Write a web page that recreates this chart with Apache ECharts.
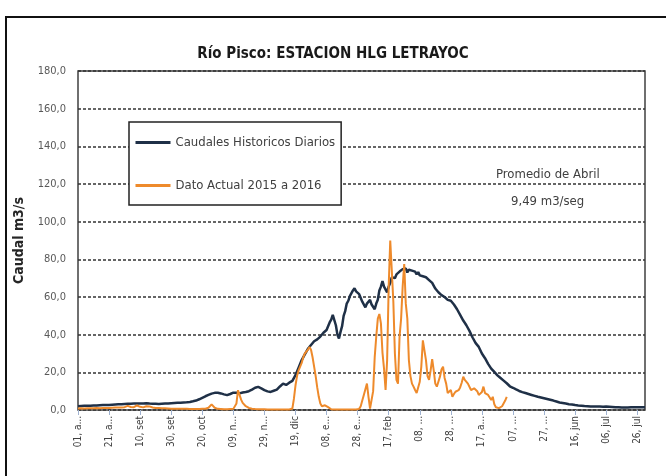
<!DOCTYPE html>
<html>
<head>
<meta charset="utf-8">
<script src="https://cdn.jsdelivr.net/npm/echarts@6/dist/echarts.min.js"></script>
<style>
  html, body { margin: 0; background: #fff; }
  #chart { width: 666px; height: 476px; }
</style>
</head>
<body>
<div id="chart"></div>
<script>
// caudales diarios, 01 ago 2015 - 31 jul 2016 (m3/s)
const historico = [
  2.0, 2.0, 2.1, 2.1, 2.2, 2.2, 2.2, 2.3, 2.3, 2.3,
  2.4, 2.4, 2.4, 2.5, 2.5, 2.5, 2.6, 2.6, 2.6, 2.7,
  2.7, 2.7, 2.8, 2.8, 2.9, 2.9, 3.0, 3.0, 3.1, 3.1,
  3.2, 3.2, 3.3, 3.3, 3.3, 3.4, 3.4, 3.4, 3.5, 3.5,
  3.5, 3.4, 3.4, 3.5, 3.6, 3.5, 3.4, 3.4, 3.3, 3.3,
  3.3, 3.2, 3.2, 3.3, 3.3, 3.4, 3.4, 3.5, 3.5, 3.6,
  3.6, 3.7, 3.7, 3.8, 3.8, 3.9, 3.9, 4.0, 4.0, 4.1,
  4.1, 4.2, 4.3, 4.4, 4.6, 4.8, 5.0, 5.3, 5.7, 6.1,
  6.5, 6.9, 7.3, 7.7, 8.0, 8.4, 8.7, 8.9, 9.1, 9.2,
  9.2, 9.0, 8.8, 8.6, 8.3, 8.0, 7.9, 8.1, 8.5, 8.9,
  9.2, 9.4, 9.2, 9.0, 8.8, 9.0, 9.3, 9.5, 9.6, 9.8,
  10.0, 10.3, 10.8, 11.3, 11.8, 12.2, 12.3, 12.0, 11.5, 11.0,
  10.6, 10.2, 9.9, 9.7, 9.6, 9.8, 10.2, 10.5, 10.8, 11.5,
  12.5, 13.5, 14.0, 13.6, 13.3, 13.8, 14.5, 15.0, 15.5, 16.5,
  18.5, 19.5, 22.5, 23.5, 26.5, 27.0, 29.5, 30.0, 32.5, 33.0,
  34.5, 34.8, 36.5, 36.0, 37.5, 37.8, 39.0, 38.8, 41.0, 41.2,
  42.5, 43.5, 46.5, 48.0, 50.5, 50.4, 45.0, 40.0, 38.0, 41.5,
  44.5, 50.0, 52.5, 56.5, 58.0, 60.5, 61.0, 63.5, 64.6, 63.0,
  63.2, 61.5, 60.5, 57.5, 57.0, 54.5, 56.5, 57.0, 58.5, 56.0,
  55.5, 53.5, 56.5, 58.5, 63.5, 65.5, 68.5, 65.5, 64.5, 62.5,
  65.5, 67.5, 70.5, 70.5, 70.0, 72.0, 71.5, 73.5, 73.5, 74.8,
  74.5, 75.2, 73.0, 74.5, 73.8, 74.0, 73.2, 73.5, 72.0, 73.2,
  71.5, 72.0, 71.0, 71.2, 70.5, 70.8, 69.0, 69.5, 67.5, 67.0,
  64.5, 64.0, 62.5, 62.5, 61.0, 61.5, 60.0, 60.5, 58.5, 59.0,
  58.0, 57.8, 56.0, 55.5, 53.5, 53.0, 50.5, 50.0, 47.5, 47.0,
  45.0, 44.5, 42.0, 41.5, 38.5, 38.0, 35.5, 35.8, 33.5, 33.0,
  30.0, 29.5, 27.5, 27.0, 24.5, 24.0, 22.0, 22.0, 20.2, 19.8,
  18.4, 18.2, 17.0, 16.8, 15.6, 15.4, 14.2, 14.0, 12.6, 12.4,
  11.8, 11.3, 10.9, 10.5, 10.1, 9.8, 9.5, 9.2, 9.0, 8.7,
  8.5, 8.2, 8.0, 7.8, 7.5, 7.3, 7.0, 6.8, 6.6, 6.4,
  6.2, 6.0, 5.8, 5.6, 5.4, 5.2, 5.0, 4.8, 4.5, 4.2,
  4.0, 3.9, 3.7, 3.6, 3.4, 3.3, 3.1, 3.0, 2.9, 2.7,
  2.6, 2.5, 2.4, 2.3, 2.3, 2.2, 2.1, 2.1, 2.0, 1.9,
  1.8, 1.8, 1.8, 1.8, 1.8, 1.8, 1.8, 1.8, 1.7, 1.7,
  1.8, 1.8, 1.7, 1.7, 1.6, 1.6, 1.5, 1.5, 1.4, 1.4,
  1.3, 1.3, 1.3, 1.3, 1.3, 1.4, 1.4, 1.4, 1.4, 1.5,
  1.5, 1.5, 1.5, 1.5, 1.5, 1.5
];

const actual = [
  0.8, 0.8, 0.9, 0.9, 0.8, 0.8, 0.9, 1.0, 0.9, 0.9,
  0.9, 1.0, 1.0, 0.9, 0.9, 1.0, 1.1, 1.0, 1.0, 1.1,
  1.1, 1.2, 1.2, 1.1, 1.3, 1.4, 1.3, 1.2, 1.3, 1.4,
  1.5, 1.8, 2.2, 2.0, 1.6, 1.4, 1.5, 1.9, 2.4, 2.1,
  1.7, 1.5, 1.4, 1.6, 2.0, 2.3, 1.9, 1.5, 1.3, 1.2,
  1.1, 1.1, 1.0, 1.0, 0.9, 0.9, 0.9, 0.8, 0.8, 0.8,
  0.7, 0.7, 0.7, 0.7, 0.6, 0.6, 0.6, 0.6, 0.6, 0.6,
  0.6, 0.5, 0.5, 0.5, 0.5, 0.5, 0.5, 0.5, 0.5, 0.6,
  0.6, 0.6, 0.7, 0.8, 1.2, 2.0, 3.0, 2.2, 1.2, 0.8,
  0.6, 0.5, 0.5, 0.4, 0.4, 0.4, 0.4, 0.4, 0.5, 0.5,
  0.6, 0.8, 3.5, 10.5, 8.0, 5.5, 3.8, 2.8, 2.0, 1.5,
  1.1, 0.9, 0.7, 0.6, 0.5, 0.5, 0.4, 0.4, 0.4, 0.4,
  0.4, 0.4, 0.3, 0.3, 0.3, 0.3, 0.3, 0.3, 0.3, 0.3,
  0.3, 0.3, 0.3, 0.3, 0.3, 0.3, 0.3, 0.4, 0.8, 6.0,
  13.0, 18.0, 21.0, 23.0, 25.0, 28.0, 30.0, 31.0, 32.0, 33.5,
  32.0, 28.0, 23.0, 18.0, 12.0, 7.0, 3.5, 2.0, 1.8, 2.5,
  2.8, 1.5, 0.6, 0.4, 0.3, 0.3, 0.3, 0.3, 0.3, 0.3,
  0.3, 0.3, 0.3, 0.3, 0.3, 0.3, 0.3, 0.3, 0.3, 0.3,
  0.4, 0.6, 2.0, 5.0, 8.0, 11.0, 14.0, 7.0, 0.8, 0.5,
  10.0, 28.0, 39.0, 48.5, 51.0, 46.0, 30.5, 22.0, 10.6, 26.5,
  65.5, 90.0, 74.0, 57.5, 30.0, 16.0, 14.0, 39.0, 48.5, 65.5,
  77.5, 56.6, 48.5, 26.5, 18.0, 14.0, 12.4, 10.6, 9.0, 10.0,
  15.0, 23.0, 37.0, 36.0, 26.5, 18.0, 16.0, 21.0, 27.0, 21.0,
  14.0, 12.4, 15.0, 17.7, 21.5, 23.0, 17.0, 14.0, 9.0, 10.0,
  10.6, 7.0, 8.5, 9.7, 9.5, 10.5, 12.0, 14.5, 17.7, 16.0,
  15.0, 14.0, 14.0, 10.6, 10.6, 11.5, 12.4, 10.0, 8.0, 9.0,
  9.5, 12.4, 9.0, 9.0, 8.0, 7.0, 5.3, 7.0, 3.0, 1.5,
  1.0, 1.0, 1.5, 2.0, 2.0, 5.0, 7.0
];

// etiquetas cada 20 dias, recortadas como en la hoja original
const tickLabels = [
  '01, a...', '21, a...', '10, set', '30, set', '20, oct', '09, n...', '29, n...',
  '19, dic', '08, e...', '28, e...', '17, feb', '08, ...', '28, ...', '17, a...',
  '07, ...', '27, ...', '16, jun', '06, jul', '26, jul'
];

const days = [];
for (let i = 0; i < historico.length; i++) {
  days.push(new Date(Date.UTC(2015, 7, 1 + i)).toISOString().slice(0, 10));
}

const font = "'Liberation Sans Narrow', 'DejaVu Sans Condensed', sans-serif";
const chart = echarts.init(document.getElementById('chart'));

chart.setOption({
  backgroundColor: '#fff',
  animation: false,
  textStyle: { fontFamily: font },
  title: {
    text: 'Río Pisco: ESTACION HLG LETRAYOC',
    left: 'center',
    top: 42,
    textStyle: { fontSize: 15, fontWeight: 'bold', color: '#1a1a1a', fontFamily: font }
  },
  legend: {
    orient: 'vertical',
    left: 129,
    top: 122,
    padding: [14, 6, 13, 5],
    itemGap: 30,
    itemWidth: 35,
    itemHeight: 14,
    backgroundColor: '#fff',
    borderColor: '#222',
    borderWidth: 1.5,
    itemStyle: { opacity: 0 },
    lineStyle: { width: 3 },
    textStyle: { fontSize: 13, color: '#404040', fontFamily: font },
    data: ['Caudales Historicos Diarios', 'Dato Actual 2015 a 2016']
  },
  grid: {
    left: 78,
    right: 21,
    top: 71,
    bottom: 66,
    show: true,
    borderColor: '#404040',
    borderWidth: 1.5
  },
  xAxis: {
    type: 'category',
    data: days,
    boundaryGap: false,
    axisLine: { show: false },
    axisTick: {
      interval: 19,
      length: 5,
      lineStyle: { color: '#9fb2d0' }
    },
    axisLabel: {
      interval: 19,
      rotate: 90,
      fontSize: 10,
      color: '#404040',
      margin: 6,
      formatter: (v, i) => tickLabels[i / 20]
    },
    splitLine: { show: false }
  },
  yAxis: {
    type: 'value',
    min: 0,
    max: 180,
    interval: 20,
    name: 'Caudal m3/s',
    nameLocation: 'middle',
    nameGap: 52,
    nameTextStyle: { fontSize: 14, fontWeight: 'bold', color: '#262626', fontFamily: font },
    axisLine: { show: false },
    axisTick: { show: false },
    axisLabel: {
      fontSize: 11,
      color: '#595959',
      margin: 12,
      formatter: v => v.toFixed(1).replace('.', ',')
    },
    splitLine: { lineStyle: { color: '#333', width: 1.5, type: [3, 2] } }
  },
  graphic: [
    {
      type: 'rect',
      shape: { x: 6, y: 17, width: 720, height: 520 },
      style: { fill: 'none', stroke: '#111', lineWidth: 2 },
      silent: true
    },
    {
      type: 'text',
      left: 496,
      top: 168,
      style: { text: 'Promedio de Abril', fill: '#404040', font: '13px ' + font }
    },
    {
      type: 'text',
      left: 511,
      top: 195,
      style: { text: '9,49 m3/seg', fill: '#404040', font: '13px ' + font }
    }
  ],
  series: [
    {
      name: 'Caudales Historicos Diarios',
      type: 'line',
      data: historico,
      symbol: 'none',
      lineStyle: { color: '#1f3047', width: 2.5 },
      itemStyle: { color: '#1f3047' }
    },
    {
      name: 'Dato Actual 2015 a 2016',
      type: 'line',
      data: actual,
      symbol: 'none',
      lineStyle: { color: '#ee8a2b', width: 2 },
      itemStyle: { color: '#ee8a2b' }
    }
  ]
});
</script>
</body>
</html>
